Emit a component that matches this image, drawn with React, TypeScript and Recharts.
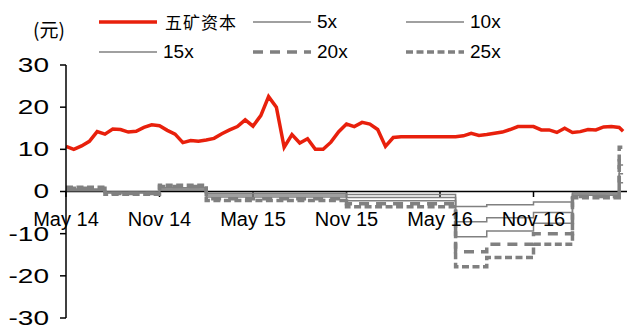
import React from 'react';
import { LineChart, Line, XAxis, YAxis, ReferenceLine, ReferenceDot } from 'recharts';

// share price, half-month steps from May 2014 (last point is mid Apr 2017)
const price = [
  10.7, 10.0, 10.8, 11.9, 14.2, 13.6, 14.8, 14.7, 14.1, 14.3, 15.2, 15.8,
  15.6, 14.5, 13.6, 11.6, 12.1, 11.9, 12.2, 12.6, 13.7, 14.6, 15.4, 17.0,
  15.5, 18.0, 22.5, 20.0, 10.5, 13.5, 11.5, 12.5, 10.0, 10.0, 11.7, 14.2,
  16.0, 15.4, 16.4, 16.0, 14.7, 10.7, 12.8, 13.0, 13.0, 13.0, 13.0, 13.0,
  13.0, 13.0, 13.0, 13.2, 13.8, 13.3, 13.5, 13.8, 14.1, 14.7, 15.4, 15.4,
  15.4, 14.6, 14.6, 14.0, 15.0, 14.0, 14.2, 14.7, 14.6, 15.3, 15.4, 15.2,
  14.3,
];

// trailing EPS, month it takes effect (months since May 2014)
const epsStart = [0, 2.5, 6, 9, 18, 25, 27, 30, 32.5, 35.5];
const epsValue = [0.04, -0.025, 0.06, -0.085, -0.145, -0.715, -0.625, -0.5, -0.06, 0.42];

const multiples = [5, 10, 15, 20, 25];
const bandNames = ['5x', '10x', '15x', '20x', '25x'];
const bandDash = ['', '', '', '10 7', '7 3.5'];
const bandWidth = [1.5, 1.5, 1.5, 3.5, 3.5];

const yTicks = [-30, -20, -10, 0, 10, 20, 30];
const xTicks = [0, 6, 12, 18, 24, 30];
const xTickLabels = ['May 14', 'Nov 14', 'May 15', 'Nov 15', 'May 16', 'Nov 16'];

const RED = '#e8200c';
const GREY = '#808080';
const FONT = '"Liberation Sans", Arial, sans-serif';

const months = price.map((_, i) => (i < price.length - 1 ? i / 2 : 35.75));

const epsAt = (t: number) => {
  let v = epsValue[0];
  epsStart.forEach((s, i) => {
    if (t >= s) v = epsValue[i];
  });
  return v;
};

const data = months.map((t, i) => {
  const row: Record<string, number> = { t, price: price[i] };
  multiples.forEach((m, k) => {
    row[bandNames[k]] = +(epsAt(t) * m).toFixed(3);
  });
  return row;
});

const legendCols = [99, 253, 406];

const LegendLine = ({ color, width, dash }: { color: string; width: number; dash: string }) => (
  <svg width={58} height={8} style={{ display: 'block' }}>
    <line x1={0} y1={4} x2={58} y2={4} stroke={color} strokeWidth={width} strokeDasharray={dash || undefined} />
  </svg>
);

const legendItems = [
  { name: '五矿资本', color: RED, width: 3.5, dash: '', cjk: true },
  ...bandNames.map((n, k) => ({ name: n, color: GREY, width: k < 3 ? 1.5 : 3.5, dash: bandDash[k], cjk: false })),
];

// y labels in the source are drawn wide
const YTick = (props: any) => {
  const { x, y, payload } = props;
  return (
    <text
      transform={`translate(${x},${y}) scale(1.4,1)`}
      textAnchor="end"
      dominantBaseline="central"
      fontSize={20}
      fontFamily={FONT}
      fill="#000"
    >
      {payload.value}
    </text>
  );
};

const App: React.FC = () => {
  return (
    <div style={{ position: 'absolute', left: 0, top: 0, width: 627, height: 329, background: '#fff' }}>
      <div
        style={{
          position: 'absolute', left: 33, top: 17, fontSize: 19,
          fontFamily: '"Noto Sans CJK SC", sans-serif', lineHeight: '24px', color: '#000',
        }}
      >
        (元)
      </div>
      {legendItems.map((it, i) => (
        <div
          key={it.name}
          style={{
            position: 'absolute', left: legendCols[i % 3], top: i < 3 ? 10 : 40,
            display: 'flex', alignItems: 'center', height: 24,
          }}
        >
          <LegendLine color={it.color} width={it.width} dash={it.dash} />
          <span
            style={{
              marginLeft: it.cjk ? 8 : 6,
              fontSize: it.cjk ? 17 : 19,
              letterSpacing: it.cjk ? 1 : 0,
              fontFamily: it.cjk ? '"Noto Sans CJK SC", sans-serif' : FONT,
              color: '#000',
              lineHeight: '24px',
            }}
          >
            {it.name}
          </span>
        </div>
      ))}
      <LineChart width={627} height={329} data={data} margin={{ top: 65, right: 0, bottom: 11, left: 0 }}>
        <XAxis dataKey="t" type="number" domain={[0, 36]} ticks={xTicks} hide />
        <YAxis
          type="number"
          domain={[-30, 30]}
          ticks={yTicks}
          width={66}
          interval={0}
          axisLine={{ stroke: '#000', strokeWidth: 1.5 }}
          tickLine={{ stroke: '#000', strokeWidth: 1.5 }}
          tickSize={6}
          tickMargin={11}
          tick={<YTick />}
        />
        <ReferenceLine y={0} stroke="#000" strokeWidth={1.5} />
        {xTicks.map((t) => (
          <ReferenceLine
            key={'tk' + t}
            segment={[{ x: t, y: 0 }, { x: t, y: -1.3 }]}
            stroke="#000"
            strokeWidth={1.5}
          />
        ))}
        {bandNames.map((n, k) => (
          <Line
            key={n}
            type="stepAfter"
            dataKey={n}
            stroke={GREY}
            strokeWidth={bandWidth[k]}
            strokeDasharray={bandDash[k] || undefined}
            dot={false}
            isAnimationActive={false}
          />
        ))}
        <Line
          type="linear"
          dataKey="price"
          stroke={RED}
          strokeWidth={3.5}
          dot={false}
          isAnimationActive={false}
        />
        {xTicks.map((t, i) => (
          <ReferenceDot
            key={'lb' + t}
            x={t}
            y={0}
            r={0}
            fill="none"
            stroke="none"
            label={{ value: xTickLabels[i], position: 'bottom', offset: 20, fill: '#000', fontSize: 20, fontFamily: FONT }}
          />
        ))}
      </LineChart>
    </div>
  );
};

export default App;
